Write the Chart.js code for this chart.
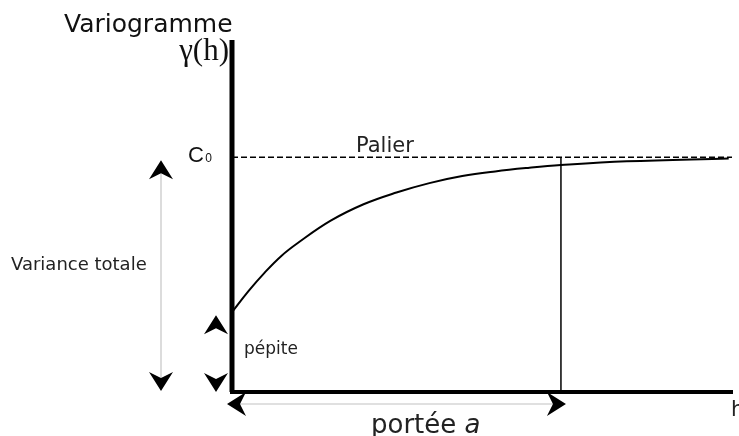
<!DOCTYPE html>
<html>
<head>
<meta charset="utf-8">
<script src="https://cdn.jsdelivr.net/npm/chart.js@4.4.1/dist/chart.umd.min.js"></script>
<style>
  html, body { margin: 0; padding: 0; background: #fff; }
  canvas { display: block; }
</style>
</head>
<body>
<canvas id="vario" width="739" height="436"></canvas>
<script>
// lag distances (range a = 10) and variogram values (sill = 10)
const lagH = [0, 0.5, 1, 1.5, 2, 3, 4, 5, 6, 7, 8, 9, 10, 12, 15.1];
const gammaValues = [3.4, 4.3, 5.1, 5.8, 6.35, 7.3, 8.0, 8.5, 8.9, 9.2, 9.4, 9.55, 9.67, 9.83, 9.95];
const sillLevel = 10;
const nuggetLevel = 3.4;
const rangeA = 10;
const hMax = 15.2;
const gammaMax = 15;

const ctx = document.getElementById('vario');

function arrowHead(c, tx, ty, dx, dy) {
    // notched arrowhead, tip at (tx, ty), pointing along (dx, dy)
    const len = 19, half = 12, notch = 6;
    const px = -dy, py = dx;
    c.beginPath();
    c.moveTo(tx, ty);
    c.lineTo(tx - dx * len + px * half, ty - dy * len + py * half);
    c.lineTo(tx - dx * (len - notch), ty - dy * (len - notch));
    c.lineTo(tx - dx * len - px * half, ty - dy * len - py * half);
    c.closePath();
    c.fill();
}

const decorations = {
    id: 'decorations',
    afterDatasetsDraw(chart) {
        const c = chart.ctx;
        const xs = chart.scales.x, ys = chart.scales.y;
        const x0 = xs.getPixelForValue(0);
        const xa = xs.getPixelForValue(rangeA);
        const y0 = ys.getPixelForValue(0);
        const ySill = ys.getPixelForValue(sillLevel);
        const yNug = ys.getPixelForValue(nuggetLevel);
        const yTop = ys.getPixelForValue(gammaMax);
        const xRight = xs.getPixelForValue(hMax);

        c.save();
        // axes
        c.strokeStyle = '#000';
        c.lineWidth = 5;
        c.beginPath();
        c.moveTo(x0, yTop);
        c.lineTo(x0, y0);
        c.stroke();
        c.lineWidth = 4;
        c.beginPath();
        c.moveTo(x0 - 2, y0);
        c.lineTo(xRight + 1, y0);
        c.stroke();

        // variance totale arrow
        const xv = 161;
        c.strokeStyle = '#d0d0d0';
        c.lineWidth = 1.5;
        c.beginPath();
        c.moveTo(xv, ySill + 14);
        c.lineTo(xv, y0 - 14);
        c.stroke();
        c.fillStyle = '#000';
        arrowHead(c, xv, ySill + 3, 0, -1);
        arrowHead(c, xv, y0 - 1, 0, 1);

        // pepite arrows
        const xp = 216;
        arrowHead(c, xp, yNug + 3, 0, -1);
        arrowHead(c, xp, y0, 0, 1);

        // portee arrow
        const yp = y0 + 12;
        c.strokeStyle = '#d6d6d6';
        c.beginPath();
        c.moveTo(x0 + 8, yp);
        c.lineTo(xa - 8, yp);
        c.stroke();
        arrowHead(c, x0 - 5, yp, -1, 0);
        arrowHead(c, xa + 5, yp, 1, 0);

        // texts
        c.fillStyle = '#111';
        c.textBaseline = 'alphabetic';
        c.textAlign = 'left';
        c.font = '25px "DejaVu Sans"';
        c.fillText('Variogramme', 64, 32);

        c.textAlign = 'right';
        c.font = '31px "Liberation Serif"';
        c.fillText('γ(h)', x0 - 3, 60);

        c.font = '22px "Liberation Sans"';
        c.fillText('C', x0 - 28, ySill + 5);
        c.font = '12px "Liberation Sans"';
        c.fillText('0', x0 - 20, ySill + 5);

        c.textAlign = 'left';
        c.fillStyle = '#222';
        c.font = '21px "DejaVu Sans"';
        c.fillText('Palier', 356, ySill - 5);

        c.font = '18px "DejaVu Sans"';
        c.fillText('Variance totale', 11, 270);

        c.font = '17px "DejaVu Sans"';
        c.fillText('pépite', x0 + 12, 354);

        c.font = '26px "DejaVu Sans"';
        const w1 = c.measureText('portée ').width;
        c.fillText('portée ', 371, 433);
        c.font = 'italic 26px "DejaVu Sans"';
        c.fillText('a', 371 + w1, 433);

        c.font = '21px "DejaVu Sans"';
        c.fillText('h', 731, 416);
        c.restore();
    }
};

new Chart(ctx, {
    type: 'scatter',
    data: {
        datasets: [
            {
                label: 'variogramme',
                data: lagH.map((h, i) => ({ x: h, y: gammaValues[i] })),
                showLine: true,
                borderColor: '#000',
                borderWidth: 2,
                pointRadius: 0,
                tension: 0.4,
                clip: false
            },
            {
                label: 'palier',
                data: [{ x: 0, y: sillLevel }, { x: hMax, y: sillLevel }],
                showLine: true,
                borderColor: '#000',
                borderWidth: 1.5,
                borderDash: [6, 3],
                pointRadius: 0,
                clip: false
            },
            {
                label: 'portee',
                data: [{ x: rangeA, y: 0 }, { x: rangeA, y: sillLevel }],
                showLine: true,
                borderColor: '#000',
                borderWidth: 1.5,
                pointRadius: 0,
                clip: false
            }
        ]
    },
    options: {
        responsive: false,
        animation: false,
        layout: { padding: { left: 232, right: 7, top: 40, bottom: 44 } },
        plugins: {
            legend: { display: false },
            tooltip: { enabled: false }
        },
        scales: {
            x: { type: 'linear', min: 0, max: hMax, display: false },
            y: { type: 'linear', min: 0, max: gammaMax, display: false }
        }
    },
    plugins: [decorations]
});
</script>
</body>
</html>
